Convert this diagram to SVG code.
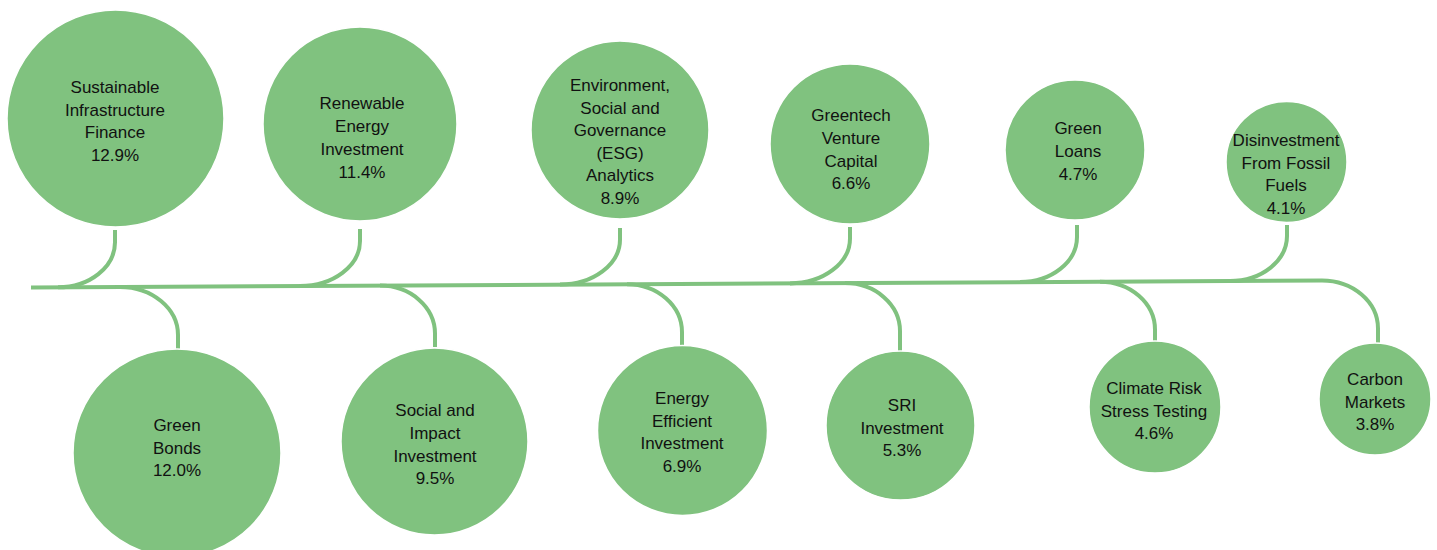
<svg xmlns="http://www.w3.org/2000/svg" width="1437" height="550" viewBox="0 0 1437 550">
<style>
.c{fill:#80C27F;stroke:#ffffff;stroke-width:1.5}
.t{font-family:"Liberation Sans",Arial,sans-serif;font-size:17px;fill:#111111;text-anchor:middle}
.k{fill:none;stroke:#80C27F;stroke-width:4;stroke-linecap:butt}
</style>
<rect width="1437" height="550" fill="#ffffff"/>
<g id="connectors">
<path class="k" d="M31,287.5 L1322,280.5"/>
<path class="k" d="M115,230 V242.3 A57,45 0 0 1 58,287.3"/>
<path class="k" d="M360,229 V241 A60,45 0 0 1 300,286"/>
<path class="k" d="M620,228 V239.6 A60,45 0 0 1 560,284.6"/>
<path class="k" d="M850,227 V238.4 A60,45 0 0 1 790,283.4"/>
<path class="k" d="M1077,225 V237.1 A57,45 0 0 1 1020,282.1"/>
<path class="k" d="M1287,225 V236 A57,45 0 0 1 1230,281"/>
<path class="k" d="M120,287 A58,48 0 0 1 178,335 V349"/>
<path class="k" d="M380,285.6 A55,48 0 0 1 435,333.6 V347"/>
<path class="k" d="M627,284.3 A55,48 0 0 1 682,332.3 V346"/>
<path class="k" d="M845,283.1 A55,48 0 0 1 900,331.1 V352"/>
<path class="k" d="M1100,281.7 A55,48 0 0 1 1155,329.7 V342"/>
<path class="k" d="M1322,280.5 A56,48 0 0 1 1378,328.5 V343"/>
</g>
<g id="node-sustainable-infrastructure">
<circle class="c" cx="115.5" cy="118.5" r="108.5"/>
<text class="t"><tspan x="115" y="93">Sustainable</tspan><tspan x="115" y="116">Infrastructure</tspan><tspan x="115" y="138">Finance</tspan><tspan x="115" y="161">12.9%</tspan></text>
</g>
<g id="node-renewable-energy">
<circle class="c" cx="360" cy="124" r="97"/>
<text class="t"><tspan x="362" y="109">Renewable</tspan><tspan x="362" y="132">Energy</tspan><tspan x="362" y="155">Investment</tspan><tspan x="362" y="178">11.4%</tspan></text>
</g>
<g id="node-esg">
<circle class="c" cx="620" cy="130" r="89"/>
<text class="t"><tspan x="620" y="91">Environment,</tspan><tspan x="620" y="113.5">Social and</tspan><tspan x="620" y="136">Governance</tspan><tspan x="620" y="158.5">(ESG)</tspan><tspan x="620" y="181">Analytics</tspan><tspan x="620" y="203.5">8.9%</tspan></text>
</g>
<g id="node-greentech">
<circle class="c" cx="850" cy="144" r="80"/>
<text class="t"><tspan x="851" y="121">Greentech</tspan><tspan x="851" y="144">Venture</tspan><tspan x="851" y="167">Capital</tspan><tspan x="851" y="189">6.6%</tspan></text>
</g>
<g id="node-green-loans">
<circle class="c" cx="1075" cy="150" r="70"/>
<text class="t"><tspan x="1078" y="134">Green</tspan><tspan x="1078" y="157">Loans</tspan><tspan x="1078" y="180">4.7%</tspan></text>
</g>
<g id="node-disinvestment">
<circle class="c" cx="1286.5" cy="162" r="60.5"/>
<text class="t"><tspan x="1286" y="146">Disinvestment</tspan><tspan x="1286" y="168.5">From Fossil</tspan><tspan x="1286" y="191">Fuels</tspan><tspan x="1286" y="213.5">4.1%</tspan></text>
</g>
<g id="node-green-bonds">
<circle class="c" cx="177" cy="453" r="104"/>
<text class="t"><tspan x="177" y="431">Green</tspan><tspan x="177" y="454">Bonds</tspan><tspan x="177" y="476">12.0%</tspan></text>
</g>
<g id="node-social-impact">
<circle class="c" cx="434.5" cy="441.5" r="93.5"/>
<text class="t"><tspan x="435" y="416">Social and</tspan><tspan x="435" y="439">Impact</tspan><tspan x="435" y="462">Investment</tspan><tspan x="435" y="484">9.5%</tspan></text>
</g>
<g id="node-energy-efficient">
<circle class="c" cx="682.5" cy="430.5" r="85"/>
<text class="t"><tspan x="682" y="404">Energy</tspan><tspan x="682" y="426.5">Efficient</tspan><tspan x="682" y="449">Investment</tspan><tspan x="682" y="471.5">6.9%</tspan></text>
</g>
<g id="node-sri">
<circle class="c" cx="900.5" cy="425.5" r="74.5"/>
<text class="t"><tspan x="902" y="411">SRI</tspan><tspan x="902" y="433.5">Investment</tspan><tspan x="902" y="456">5.3%</tspan></text>
</g>
<g id="node-climate-risk">
<circle class="c" cx="1155" cy="407" r="66"/>
<text class="t"><tspan x="1154" y="394">Climate Risk</tspan><tspan x="1154" y="416.5">Stress Testing</tspan><tspan x="1154" y="439">4.6%</tspan></text>
</g>
<g id="node-carbon-markets">
<circle class="c" cx="1375" cy="399" r="56"/>
<text class="t"><tspan x="1375" y="385">Carbon</tspan><tspan x="1375" y="407.5">Markets</tspan><tspan x="1375" y="430">3.8%</tspan></text>
</g>
</svg>
